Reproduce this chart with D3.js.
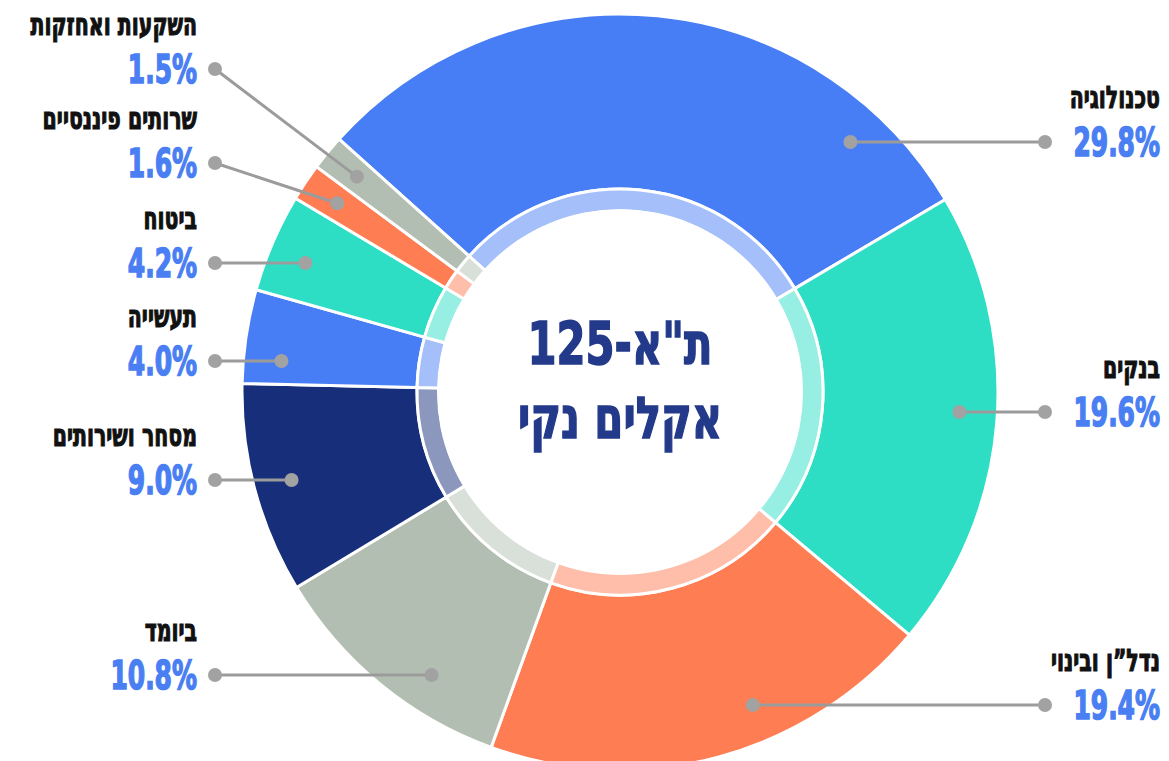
<!DOCTYPE html>
<html lang="he">
<head>
<meta charset="utf-8">
<script src="https://cdn.jsdelivr.net/npm/d3@7"></script>
<style>
  html, body { margin: 0; padding: 0; background: #fff; }
  svg { display: block; }
  text { font-family: "DejaVu Sans", sans-serif; font-weight: bold; }
</style>
</head>
<body>
<div id="chart"></div>
<script>
// sector names, shares (%) and colours, in clockwise order from the top
const sectors = ["טכנולוגיה", "בנקים", "נדל”ן ובינוי", "ביומד", "מסחר ושירותים", "תעשייה", "ביטוח", "שרותים פיננסיים", "השקעות ואחזקות"];
const shares = [29.8, 19.6, 19.4, 10.8, 9.0, 4.0, 4.2, 1.6, 1.5];
const colors = ["#487ef5", "#2ddec4", "#fe7d52", "#b3beb2", "#172e7b", "#487ef5", "#2ddec4", "#fe7d52", "#b3beb2"];
const titleLines = ["ת\"א-125", "אקלים נקי"];

// label layout: which side and vertical spot of each callout
const labelSide = ["right", "right", "right", "left", "left", "left", "left", "left", "left"];
const labelY = [142, 412, 705, 675, 480, 361, 263, 163, 69];

const width = 1169, height = 761;
const cx = 620, cy = 392;
const outerR = 378, ringR = 203, innerR = 183, dotR = 340;

const svg = d3.select("#chart").append("svg")
    .attr("width", width)
    .attr("height", height);

const data = sectors.map((s, i) => ({ name: s, value: shares[i], color: colors[i], side: labelSide[i], y: labelY[i] }));

const start = -48 * Math.PI / 180;
const pie = d3.pie()
    .sort(null)
    .value(d => d.value)
    .startAngle(start)
    .endAngle(start + 2 * Math.PI);

const arcs = pie(data);

const outerArc = d3.arc().innerRadius(ringR).outerRadius(outerR);
const ringArc = d3.arc().innerRadius(innerR - 2).outerRadius(ringR);

const g = svg.append("g").attr("transform", `translate(${cx},${cy})`);

g.selectAll("path.slice")
    .data(arcs)
    .join("path")
    .attr("class", "slice")
    .attr("d", outerArc)
    .attr("fill", d => d.data.color)
    .attr("stroke", "#fff")
    .attr("stroke-width", 3);

g.selectAll("path.ring")
    .data(arcs)
    .join("path")
    .attr("class", "ring")
    .attr("d", ringArc)
    .attr("fill", d => d3.interpolateRgb(d.data.color, "#fff")(0.5))
    .attr("stroke", "#fff")
    .attr("stroke-width", 3);

g.append("circle")
    .attr("r", innerR)
    .attr("fill", "#fff");

// centre title
g.selectAll("text.title")
    .data(titleLines)
    .join("text")
    .attr("class", "title")
    .attr("transform", (d, i) => `translate(0,${i === 0 ? -28 : 46}) scale(0.72,1)`)
    .attr("text-anchor", "middle")
    .attr("fill", "#233a8a")
    .attr("stroke", "#233a8a")
    .attr("stroke-width", 1.6)
    .style("font-size", "58px")
    .text(d => d);

// callouts: point inside the slice, then out to the label
function innerPoint(d) {
    let dy = d.data.y - cy;
    let dx = Math.sqrt(Math.max(0, dotR * dotR - dy * dy)) * (d.data.side === "right" ? 1 : -1);
    let ang = Math.atan2(dx, -dy);
    if (ang < start) ang += 2 * Math.PI;
    if (Math.abs(dy) < dotR && ang >= d.startAngle && ang <= d.endAngle) {
        return [cx + dx, d.data.y];
    }
    let mid = (d.startAngle + d.endAngle) / 2;
    return [cx + dotR * Math.sin(mid), cy - dotR * Math.cos(mid)];
}

const labelEnd = { right: 1160, left: 197 };
const outerDotX = { right: 1045, left: 215 };

const callouts = svg.append("g")
    .selectAll("g.callout")
    .data(arcs)
    .join("g")
    .attr("class", "callout");

callouts.append("line")
    .attr("x1", d => innerPoint(d)[0])
    .attr("y1", d => innerPoint(d)[1])
    .attr("x2", d => outerDotX[d.data.side])
    .attr("y2", d => d.data.y)
    .attr("stroke", "#9b9b9b")
    .attr("stroke-width", 3);

callouts.append("circle")
    .attr("cx", d => innerPoint(d)[0])
    .attr("cy", d => innerPoint(d)[1])
    .attr("r", 7)
    .attr("fill", "#a2a2a2");

callouts.append("circle")
    .attr("cx", d => outerDotX[d.data.side])
    .attr("cy", d => d.data.y)
    .attr("r", 7)
    .attr("fill", "#a2a2a2");

callouts.append("text")
    .attr("transform", d => `translate(${labelEnd[d.data.side]},${d.data.y - 34}) scale(0.66,1)`)
    .attr("text-anchor", "end")
    .attr("fill", "#111")
    .attr("stroke", "#111")
    .attr("stroke-width", 1.2)
    .style("font-size", "31px")
    .text(d => d.data.name);

const fmt = d3.format(".1f");
callouts.append("text")
    .attr("transform", d => `translate(${labelEnd[d.data.side]},${d.data.y + 14}) scale(0.64,1)`)
    .attr("text-anchor", "end")
    .attr("fill", "#4a7ff3")
    .attr("stroke", "#4a7ff3")
    .attr("stroke-width", 1.6)
    .style("font-size", "39px")
    .text(d => fmt(d.data.value) + "%");
</script>
</body>
</html>
